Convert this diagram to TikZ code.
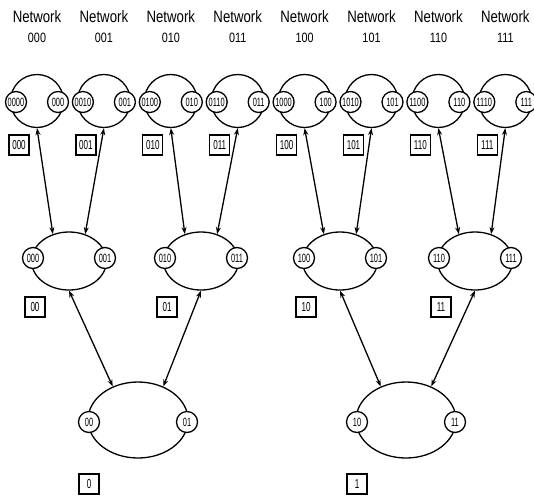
\documentclass[tikz,border=0pt]{standalone}
\usepackage{fontspec}
\setmainfont{Liberation Sans}
\newfontfamily\nwfont[FakeStretch=0.8]{Liberation Sans}
\newfontfamily\ptfont[FakeStretch=0.62]{Liberation Sans}
\usetikzlibrary{shapes.geometric,arrows.meta}
\begin{document}
\begin{tikzpicture}[x=1pt,y=-1pt,
  title/.style={font=\nwfont\fontsize{16.5}{16.5}\selectfont, inner sep=0pt},
  code/.style={font=\nwfont\fontsize{13.5}{13.5}\selectfont, inner sep=0pt},
  toprng/.style={circle, draw, line width=1.3pt, minimum size=53pt, inner sep=0pt},
  midrng/.style={ellipse, draw, line width=1.3pt, minimum width=75pt, minimum height=58pt, inner sep=0pt},
  botrng/.style={ellipse, draw, line width=1.3pt, minimum width=100pt, minimum height=76pt, inner sep=0pt},
  port/.style={circle, draw, fill=white, line width=1.3pt, minimum size=21pt, inner sep=0pt, font=\ptfont\fontsize{12}{12}\selectfont},
  tag/.style={draw, line width=1.2pt, minimum size=20pt, inner sep=0pt, font=\ptfont\fontsize{13}{13}\selectfont},
  link/.style={line width=1.3pt, {Stealth[length=7pt,width=5pt]}-{Stealth[length=7pt,width=5pt]}}
]
\useasboundingbox (0,0) rectangle (534,501);
% top level networks
\foreach \i/\c in {0/000,1/001,2/010,3/011,4/100,5/101,6/110,7/111}{
  \pgfmathsetmacro\xx{37+66.9*\i}
  \node[title] (n\c) at (\xx,17) {Network};
  \node[code] (c\c) at (\xx,38) {\c};
  \node[toprng] (t\c) at (\xx,101) {};
  \node[port] (t\c-l) at (\xx-21,102) {\c0};
  \node[port] (t\c-r) at (\xx+21,102) {\c};
  \node[tag] (g\c) at (\xx-18,145) {\c};
}
% middle level
\foreach \c/\xx/\a/\b in {00/69/000/001,01/201/010/011,10/340/100/101,11/475/110/111}{
  \node[midrng] (m\c) at (\xx,261) {};
  \node[port] (m\c-l) at (\xx-36,258) {\a};
  \node[port] (m\c-r) at (\xx+36,258) {\b};
  \node[tag] (g\c) at (\xx-34,307) {\c};
  \draw[link] (t\a.south) -- (m\c.121);
  \draw[link] (t\b.south) -- (m\c.59);
}
% bottom level
\foreach \c/\xx/\a/\b in {0/138/00/01,1/406/10/11}{
  \node[botrng] (b\c) at (\xx,420) {};
  \node[port] (b\c-l) at (\xx-49,422) {\a};
  \node[port] (b\c-r) at (\xx+49,422) {\b};
  \node[tag] (g\c) at (\xx-49,484) {\c};
  \draw[link] (m\a.south) -- (b\c.127);
  \draw[link] (m\b.south) -- (b\c.53);
}
\end{tikzpicture}
\end{document}
